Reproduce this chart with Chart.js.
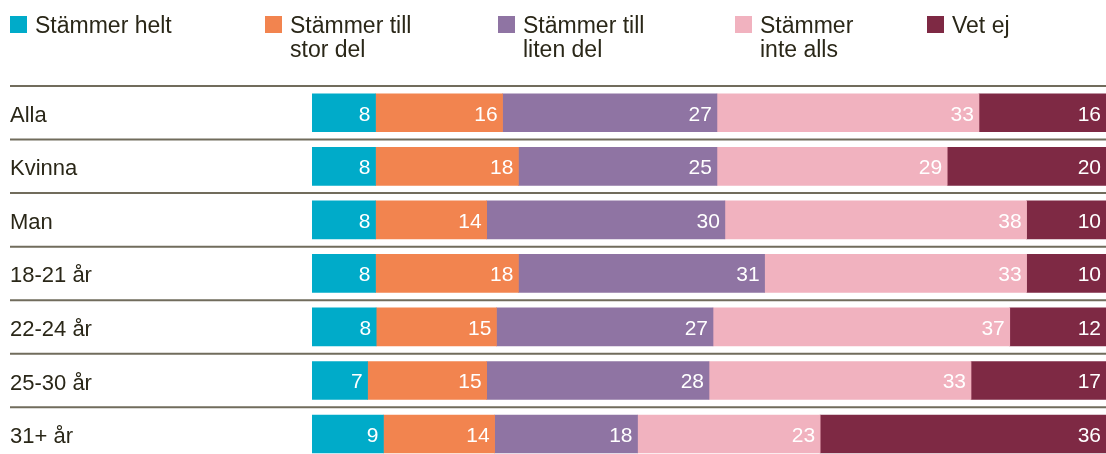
<!DOCTYPE html>
<html>
<head>
<meta charset="utf-8">
<script src="https://cdn.jsdelivr.net/npm/chart.js@4"></script>
<style>
html,body{margin:0;padding:0;background:#fff;overflow:hidden;}
canvas{display:block;}
</style>
</head>
<body>
<canvas id="c" width="1106" height="474"></canvas>
<script>
const categories = ['Alla', 'Kvinna', 'Man', '18-21 år', '22-24 år', '25-30 år', '31+ år'];
const stammerHelt = [8, 8, 8, 8, 8, 7, 9];
const stammerTillStorDel = [16, 18, 14, 18, 15, 15, 14];
const stammerTillLitenDel = [27, 25, 30, 31, 27, 28, 18];
const stammerInteAlls = [33, 29, 38, 33, 37, 33, 23];
const vetEj = [16, 20, 10, 10, 12, 17, 36];
const seriesNames = [
  ['Stämmer helt'],
  ['Stämmer till', 'stor del'],
  ['Stämmer till', 'liten del'],
  ['Stämmer', 'inte alls'],
  ['Vet ej']
];
const seriesColors = ['#00abc9', '#f2844f', '#8f74a3', '#f1b2bf', '#7e2944'];
const allSeries = [stammerHelt, stammerTillStorDel, stammerTillLitenDel, stammerInteAlls, vetEj];

// 100% stacked: each row normalised to its total
const rowTotals = categories.map((_, i) => allSeries.reduce((s, arr) => s + arr[i], 0));

const FONT = '"Liberation Sans", Arial, Helvetica, sans-serif';
const TEXT = '#2a2718';

const legendX = [10, 265, 498, 735, 927];

const legendPlugin = {
  id: 'customLegend',
  afterDraw(chart) {
    const ctx = chart.ctx;
    ctx.save();
    chart.data.datasets.forEach((ds, i) => {
      const x = legendX[i];
      ctx.fillStyle = ds.backgroundColor;
      ctx.fillRect(x, 16, 17, 17);
      ctx.fillStyle = TEXT;
      ctx.font = '23px ' + FONT;
      ctx.textAlign = 'left';
      ctx.textBaseline = 'alphabetic';
      ds.legendLines.forEach((line, j) => {
        ctx.fillText(line, x + 25, 33 + j * 24);
      });
    });
    ctx.restore();
  }
};

const rowLinesPlugin = {
  id: 'rowLines',
  afterDatasetsDraw(chart) {
    const ctx = chart.ctx;
    const a = chart.chartArea;
    const n = categories.length;
    const step = (a.bottom - a.top) / n;
    ctx.save();
    ctx.strokeStyle = '#716c5c';
    ctx.lineWidth = 2;
    for (let i = 0; i <= n; i++) {
      const y = a.top + i * step;
      ctx.beginPath();
      ctx.moveTo(10, y);
      ctx.lineTo(chart.width, y);
      ctx.stroke();
    }
    ctx.restore();
  }
};

const valueLabelPlugin = {
  id: 'valueLabels',
  afterDatasetsDraw(chart) {
    const ctx = chart.ctx;
    ctx.save();
    ctx.font = '21px ' + FONT;
    ctx.fillStyle = '#ffffff';
    ctx.textAlign = 'right';
    ctx.textBaseline = 'middle';
    chart.data.datasets.forEach((ds, di) => {
      const meta = chart.getDatasetMeta(di);
      meta.data.forEach((bar, i) => {
        ctx.fillText(String(ds.rawValues[i]), bar.x - 5, bar.y + 2);
      });
    });
    ctx.restore();
  }
};

new Chart(document.getElementById('c'), {
  type: 'bar',
  data: {
    labels: categories,
    datasets: allSeries.map((arr, k) => ({
      label: seriesNames[k].join(' '),
      legendLines: seriesNames[k],
      rawValues: arr,
      data: arr.map((v, i) => v / rowTotals[i] * 100),
      backgroundColor: seriesColors[k],
      borderWidth: 0,
      barThickness: 38
    }))
  },
  options: {
    indexAxis: 'y',
    responsive: false,
    animation: false,
    layout: { padding: { left: 10, top: 86, right: 0, bottom: 0 } },
    plugins: {
      legend: { display: false },
      tooltip: { enabled: false }
    },
    scales: {
      x: { stacked: true, min: 0, max: 100, display: false },
      y: {
        stacked: true,
        grid: { display: false },
        border: { display: false },
        ticks: {
          crossAlign: 'far',
          padding: 0,
          labelOffset: 3,
          color: TEXT,
          font: { family: FONT, size: 22 }
        },
        afterFit(scale) { scale.width = 302; }
      }
    }
  },
  plugins: [legendPlugin, rowLinesPlugin, valueLabelPlugin]
});
</script>
</body>
</html>
